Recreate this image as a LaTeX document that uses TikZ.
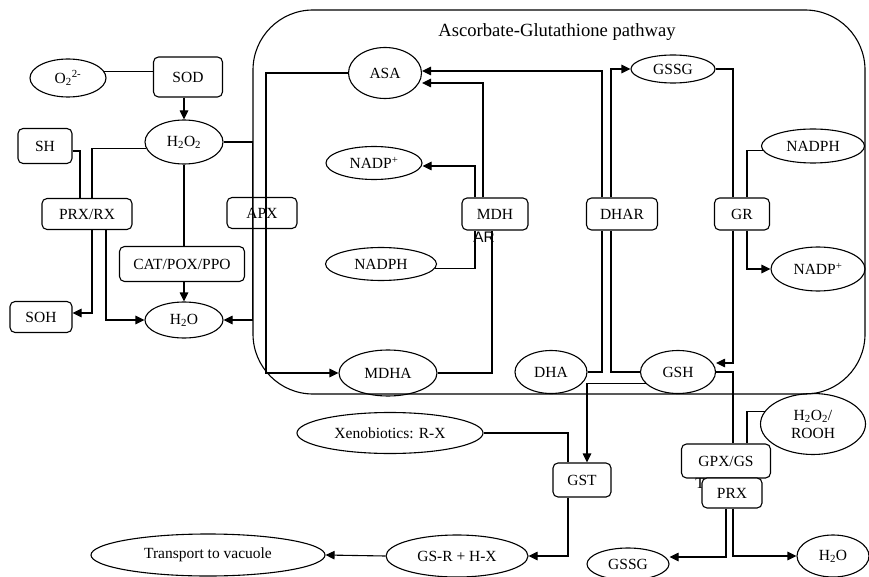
\documentclass[tikz,border=0pt]{standalone}
\usepackage{fontspec}
\setmainfont{Liberation Serif}
\newfontfamily\wrapsans{Liberation Sans}
\usetikzlibrary{arrows.meta,shapes.geometric}
\begin{document}
\begin{tikzpicture}[x=1pt,y=-1pt,line width=1.1pt,
  every node/.style={font=\fontsize{15.5}{17}\selectfont,inner sep=0pt},
  enz/.style={draw,rounded corners=5pt},
  met/.style={draw,ellipse},
  arr/.style={-{Triangle[length=9pt,width=8.5pt]}},
  sz/.style 2 args={minimum width=#1pt,minimum height=#2pt}]

\fill[white] (0,0) rectangle (869,577);
\useasboundingbox (0,0) rectangle (869,577);

% pathway frame and its heading
\node[draw,rounded corners=60pt,sz={612}{384}] (aspath) at (559,202) {};
\node[font=\fontsize{18.6}{20}\selectfont] (title) at (557,32) {Ascorbate-Glutathione pathway};

% superoxide / peroxide detoxification
\node[met,sz={76}{38}] (o2) at (68,78) {O\textsubscript{2}\textsuperscript{2-}};
\node[enz,sz={69}{40}] (sod) at (188,77) {SOD};
\node[met,sz={78}{44}] (h2o2) at (184,142) {H\textsubscript{2}O\textsubscript{2}};
\node[enz,sz={54}{35}] (sh) at (45,146) {SH};
\node[enz,sz={90}{31}] (prxrx) at (87,214) {PRX/RX};
\node[enz,sz={70}{31}] (apx) at (262,213) {APX};
\node[enz,sz={125}{35}] (cat) at (182,264) {CAT/POX/PPO};
\node[enz,sz={62}{31}] (soh) at (41,317) {SOH};
\node[met,sz={78}{36}] (h2oL) at (184,320) {H\textsubscript{2}O};

% ascorbate branch
\node[met,sz={73}{51}] (asa) at (385,73) {ASA};
\node[met,sz={96}{33}] (nadpL) at (374,163) {NADP\textsuperscript{+}};
\node[enz,sz={66}{32}] (mdhar) at (495,214) {MDH};
\node[font=\wrapsans\fontsize{15.3}{17}\selectfont] (mdharTail) at (484,237) {AR};
\node[met,sz={111}{33}] (nadphL) at (381,264) {NADPH};
\node[met,sz={98}{46}] (mdha) at (388,373) {MDHA};
\node[met,sz={72}{43}] (dha) at (551,372) {DHA};

% glutathione branch
\node[met,sz={84}{28}] (gssgT) at (673,69) {GSSG};
\node[enz,sz={71}{32}] (dhar) at (622,214) {DHAR};
\node[enz,sz={55}{32}] (gr) at (742,214) {GR};
\node[met,sz={103}{34}] (nadphR) at (813,146) {NADPH};
\node[met,sz={94}{44}] (nadpR) at (818,269) {NADP\textsuperscript{+}};
\node[met,sz={75}{43}] (gsh) at (678,372) {GSH};

% xenobiotics and peroxide reduction outside the cycle
\node[met,sz={186}{41}] (xeno) at (390,433) {Xenobiotics: R-X};
\node[enz,sz={58}{34}] (gst) at (582,480) {GST};
\node[met,sz={142}{42}] (gsrhx) at (457,556) {GS-R + H-X};
\node[met,sz={234}{42}] (vac) at (208,555) {Transport to vacuole};
\node[met,sz={105}{61},align=center,font=\fontsize{15.5}{18}\selectfont] (rooh) at (813,424) {H\textsubscript{2}O\textsubscript{2}/\\ROOH};
\node[enz,sz={89}{34}] (gpx) at (726,461) {GPX/GS};
\node (gpxTail) at (700,483) {T};
\node[enz,fill=white,sz={60}{30}] (prx2) at (732,493) {PRX};
\node[met,sz={82}{32}] (gssgB) at (628,564) {GSSG};
\node[met,sz={72}{42}] (h2oR) at (833,556) {H\textsubscript{2}O};

% connectors, left part
\draw (o2.10) -- (o2.10 -| sod.west);
\draw[arr] (sod.south -| h2o2.north) -- (h2o2.north);
\draw (sh.east |- 0,151) -| (prxrx.north -| 80,0);
\draw (h2o2.190) -| (prxrx.north -| 92,0);
\draw[arr] (prxrx.south -| 92,0) |- (soh.east |- 0,313);
\draw[arr] (prxrx.south -| 106,0) |- (h2oL.west);
\draw (h2o2.south) -- (cat.north -| h2o2.south);
\draw[arr] (cat.south -| h2oL.north) -- (h2oL.north);
\draw[arr] (h2o2.east) -| (aspath.west |- h2oL.east) -- (h2oL.east);

% connectors, ascorbate branch
\draw[arr] (asa.west) -| (mdha.west -| 266,0) -- (mdha.west);
\draw[arr] (mdhar.north -| 483,0) |- (asa.east |- 0,83);
\draw[arr] (mdhar.north -| 475,0) |- (nadpL.east |- 0,166);
\draw (nadphL.-5) -| (mdhar.south -| 475,0);
\draw (mdha.east) -| (mdhar.south -| 492,0);
\draw[arr] (dhar.north -| 602,0) |- (asa.east |- 0,71);
\draw[arr] (dhar.north -| 611,0) |- (gssgT.west);
\draw (dha.east) -| (dhar.south -| 602,0);
\draw (gsh.west) -| (dhar.south -| 611,0);

% connectors, glutathione branch
\draw (gssgT.east) -| (gr.north -| 733,0);
\draw (nadphR.185) -| (gr.north -| 747,0);
\draw[arr] (gr.south -| 733,0) |- (gsh.east |- 0,363);
\draw[arr] (gr.south -| 747,0) |- (nadpR.west);
\draw (gsh.east) -| (gpx.north -| 733,0);
\draw[arr] (gsh.200) -| (gst.north -| 587,0);

% connectors, lower part
\draw (xeno.east) -| (gst.north -| 568,0);
\draw[arr] (gst.south -| 568,0) |- (gsrhx.east);
\draw[arr] (gsrhx.west) -- (vac.east);
\draw (rooh.165) -| (gpx.north -| 747,0);
\draw[arr] (prx2.south -| 726,0) |- (gssgB.east |- 0,557);
\draw[arr] (prx2.south -| 733,0) |- (h2oR.west);
\end{tikzpicture}
\end{document}
